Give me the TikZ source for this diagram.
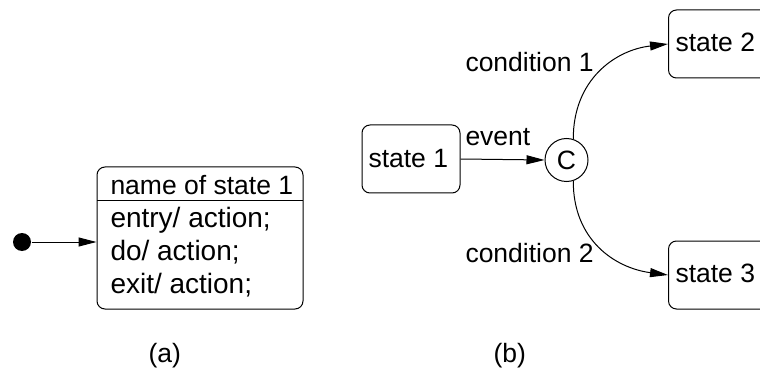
\documentclass[tikz,border=0pt]{standalone}
\usepackage{fontspec}
\setmainfont{Liberation Sans}
\usetikzlibrary{arrows.meta}
\begin{document}
\begin{tikzpicture}[x=1pt,y=-1pt,
  font=\fontsize{26.5}{32}\selectfont,
  line width=1pt,
  statebox/.style={draw, rounded corners=8pt, inner sep=0pt},
  txt/.style={inner sep=0pt, anchor=base west},
  entrytxt/.style={txt, font=\fontsize{28}{32}\selectfont},
  arr/.style={-{Triangle[length=18pt,width=9pt]}},
]
\useasboundingbox (0,0) rectangle (760,374);
% ---------- (a) ----------
\node[circle, fill=black, minimum size=18pt, inner sep=0pt] (dot) at (22,242) {};
\node[statebox, minimum width=206pt, minimum height=142pt] (big) at (200,238) {};
\coordinate (divL) at (97,201);
\coordinate (divR) at (303,201);
\draw (divL) -- (divR);
\node[txt] (name) at (110,195) {name of state 1};
\node[entrytxt] (l1) at (110,227) {entry/ action;};
\node[entrytxt] (l2) at (110,260) {do/ action;};
\node[entrytxt] (l3) at (110,293) {exit/ action;};
\draw[arr] (dot) -- (dot -| big.west);
\node[txt] (capa) at (148,362) {(a)};
% ---------- (b) ----------
\node[statebox, minimum width=98pt, minimum height=68pt] (s1) at (411,159) {};
\node[txt] (s1t) at (368,168) {state 1};
\node[circle, draw, minimum size=43pt, inner sep=0pt] (C) at (566.5,160) {C};
\node[statebox, minimum width=110pt, minimum height=68pt, anchor=west] (s2) at (668,44) {};
\node[txt] (s2t) at (675,52) {state 2};
\node[statebox, minimum width=110pt, minimum height=68pt, anchor=west] (s3) at (668,275) {};
\node[txt] (s3t) at (675,282) {state 3};
\draw[arr] (s1.east) -- (C.west);
\node[txt] (ev) at (465,146) {event};
\draw[arr] (C.72) .. controls (573,80) and (615,50) .. (s2.west);
\draw[arr] (C.-72) .. controls (573,240) and (615,268) .. (s3.west);
\node[txt] (c1) at (465,72) {condition 1};
\node[txt] (c2) at (465,262) {condition 2};
\node[txt] (capb) at (493,362) {(b)};
\end{tikzpicture}
\end{document}
